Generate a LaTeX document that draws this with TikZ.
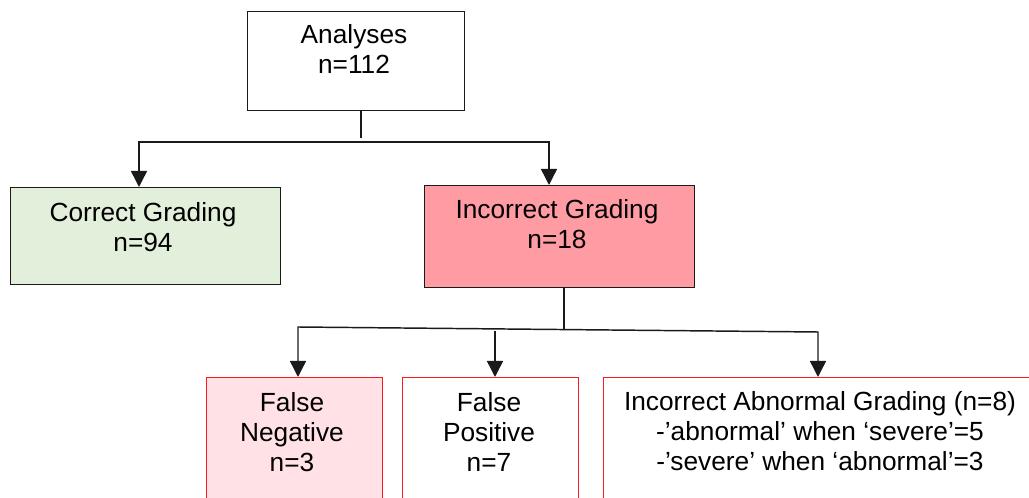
\documentclass[tikz,border=0pt]{standalone}
\usepackage{fontspec}
\setmainfont{Liberation Sans}
\usetikzlibrary{arrows.meta}

\definecolor{okgreen}{HTML}{E2EFDA}
\definecolor{badpink}{HTML}{FF9CA3}
\definecolor{softpink}{HTML}{FFE1E6}
\definecolor{edgered}{HTML}{FF1A1A}
\definecolor{inkline}{HTML}{1A1A1A}

\tikzset{
  darkbox/.style={draw=inkline, line width=1pt, anchor=north west, inner sep=0pt},
  redbox/.style={draw=edgered, line width=0.8pt, anchor=north west, inner sep=0pt},
  txt/.style={align=center, inner sep=0pt,
    font=\fontsize{19.7pt}{22.5pt}\selectfont},
  conn/.style={draw=inkline, line width=1.1pt},
  tip/.style={-{Triangle[length=12pt,width=12pt]}},
  twotips/.style={{Triangle[length=12pt,width=12pt]}-{Triangle[length=12pt,width=12pt]}}
}

\begin{document}
\begin{tikzpicture}[x=0.75pt,y=-0.75pt]
  \useasboundingbox (0,0) rectangle (1029,498);
  \fill[white] (0,0) rectangle (1029,498);
  \clip (0,0) rectangle (1029,498);

  % boxes
  \node[darkbox, minimum width=217*0.75pt, minimum height=99*0.75pt] (top) at (247,11) {};
  \node[darkbox, fill=okgreen, minimum width=270*0.75pt, minimum height=97*0.75pt] (correct) at (10,187) {};
  \node[darkbox, fill=badpink, minimum width=270*0.75pt, minimum height=102*0.75pt] (incorrect) at (424,185) {};
  \node[redbox, fill=softpink, minimum width=176*0.75pt, minimum height=150*0.75pt] (fneg) at (206,377) {};
  \node[redbox, minimum width=176*0.75pt, minimum height=150*0.75pt] (fpos) at (402,377) {};
  \node[redbox, minimum width=440*0.75pt, minimum height=150*0.75pt] (abn) at (603,377) {};

  % texts
  \node[txt] (t-top) at (354,49) {Analyses\\n=112};
  \node[txt] (t-correct) at (143,227) {Correct Grading\\n=94};
  \node[txt] (t-incorrect) at (557,224) {Incorrect Grading\\n=18};
  \node[txt] (t-fneg) at (292,432) {False\\Negative\\n=3};
  \node[txt] (t-fpos) at (489,432) {False\\Positive\\n=7};
  \node[txt] (t-abn) at (820,431) {Incorrect Abnormal Grading (n=8)\\-’abnormal’ when ‘severe’=5\\-’severe’ when ‘abnormal’=3};

  % junction points of the connectors
  \coordinate (j1) at (361,138);
  \coordinate (bl) at (139,142);
  \coordinate (br) at (549,142);
  \coordinate (j2) at (564,330);
  \coordinate (cl) at (298,327);
  \coordinate (cr) at (818,332);
  \coordinate (cm) at (495,331);

  % first split
  \draw[conn] (top.south -| j1) -- (j1);
  \draw[conn, twotips] (bl |- correct.north) -- (bl) -- (br) -- (br |- incorrect.north);

  % second split
  \draw[conn] (incorrect.south -| j2) -- (j2);
  \draw[conn, twotips] (cl |- fneg.north) -- (cl) -- (cr) -- (cr |- abn.north);
  \draw[conn, tip] (cm) -- (cm |- fpos.north);
\end{tikzpicture}
\end{document}
